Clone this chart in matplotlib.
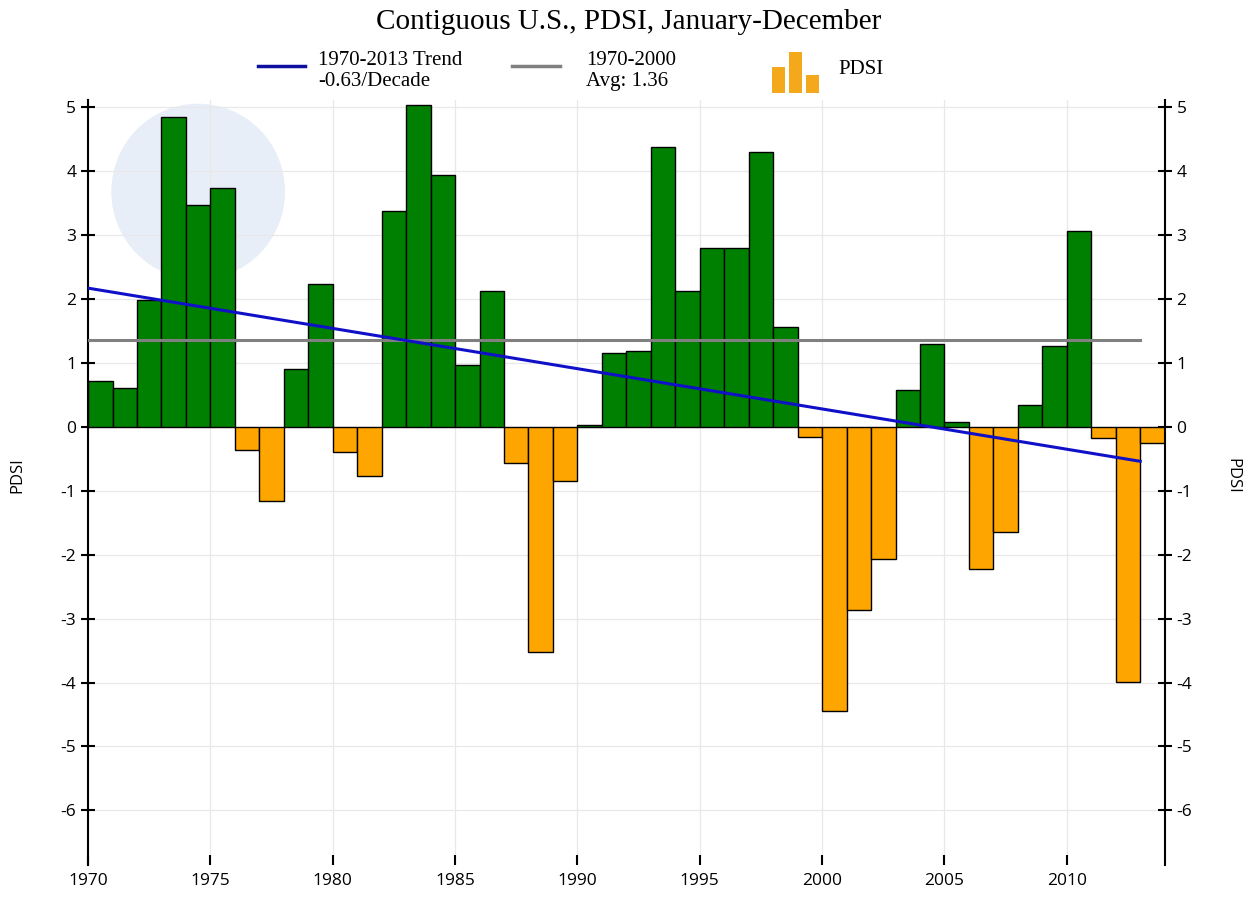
import matplotlib
matplotlib.use('Agg')
import matplotlib.pyplot as plt
import numpy as np
from matplotlib.lines import Line2D
from matplotlib.patches import Rectangle, Ellipse

plt.rcParams['axes.unicode_minus'] = False

############################################################################################################
years = np.arange(1970, 2014)
pdsi = [0.72, 0.60, 1.98, 4.84, 3.47, 3.73, -0.36, -1.16, 0.91, 2.23,
        -0.40, -0.77, 3.37, 5.03, 3.94, 0.96, 2.13, -0.56, -3.52, -0.85,
        0.03, 1.15, 1.19, 4.38, 2.13, 2.80, 2.80, 4.30, 1.56, -0.16,
        -4.44, -2.86, -2.06, 0.57, 1.30, 0.08, -2.22, -1.65, 0.34, 1.26,
        3.06, -0.18, -3.99, -0.25]
trend_start, trend_per_decade = 2.17, -0.63
avg_1970_2000 = 1.36
line_years = [1970, 2013]

title = 'Contiguous U.S., PDSI, January-December'
trend_label = '1970-2013 Trend\n-0.63/Decade'
avg_label = '1970-2000\nAvg: 1.36'
bar_label = 'PDSI'

#----------------------------------------------------------------------------------------------
fig = plt.figure(figsize=(12.49, 8.97), dpi=100)
ax = fig.add_axes([0.0705, 0.036, 0.862, 0.853])

# faint watermark disc (round on screen: ~24.5 px/year, ~64 px/unit)
ax.add_patch(Ellipse((1974.5, 3.68), 7.1, 2.75, facecolor='#e8eef7', edgecolor='none', zorder=0))

pdsi = np.array(pdsi)
colors = np.where(pdsi >= 0, '#008000', '#FFA500')
ax.bar(years, pdsi, width=1.0, align='edge', color=colors, edgecolor='black', linewidth=1.0, zorder=2)

# trend and average
tx = np.array(line_years, dtype=float)
ty = trend_start + trend_per_decade / 10. * (tx - 1970)
ax.plot(line_years, [avg_1970_2000, avg_1970_2000], color='#808080', lw=2.2, zorder=3)
ax.plot(tx, ty, color='#1010C8', lw=2.2, zorder=4)

ax.set_xlim(1970, 2014)
ax.set_ylim(-6.85, 5.12)
ax.set_xticks(np.arange(1970, 2014, 5))
ax.set_yticks(np.arange(-6, 6, 1))
ax.grid(True, color='#e8e8e8', lw=0.9, zorder=0)
ax.set_axisbelow(True)

for s in ['top', 'bottom']:
    ax.spines[s].set_visible(False)
for s in ['left', 'right']:
    ax.spines[s].set_linewidth(1.5)

ax.tick_params(axis='y', direction='inout', length=10, width=1.5, labelsize=12.5,
               left=True, right=True, labelleft=True, labelright=True)
ax.tick_params(axis='x', direction='in', length=7, width=1.5, labelsize=12.5, pad=6)
for lab in ax.get_xticklabels() + ax.get_yticklabels():
    lab.set_fontfamily('Open Sans')

fig.text(0.014, 0.47, 'PDSI', rotation=90, fontsize=12, family='Open Sans', va='center', ha='center')
fig.text(0.987, 0.47, 'PDSI', rotation=270, fontsize=12, family='Open Sans', va='center', ha='center')

#----------------------------------------------------------------------------------------------
# title and hand-made legend
fig.text(0.503, 0.976, title, fontsize=21, family='Liberation Serif', ha='center', va='center')

W, H = 1249., 897.
def fx(px): return px / W
def fy(py): return 1 - py / H

fig.add_artist(Line2D([fx(258), fx(305)], [fy(66), fy(66)], color='#1010A0', lw=2.5))
fig.text(fx(318), fy(71), trend_label, fontsize=15, family='Liberation Serif', va='center', ha='left',
         linespacing=1.15)
fig.add_artist(Line2D([fx(512), fx(560)], [fy(66), fy(66)], color='#808080', lw=2.5))
fig.text(fx(586), fy(71), avg_label, fontsize=15, family='Liberation Serif', va='center', ha='left',
         linespacing=1.15)
for x0, h in [(772, 26), (789, 41), (806, 18)]:
    fig.add_artist(Rectangle((fx(x0), fy(93)), fx(13), h / H, facecolor='#F4A81B', edgecolor='none'))
fig.text(fx(838), fy(70), bar_label, fontsize=15, family='Liberation Serif', va='center', ha='left')

fig.savefig('out.png', dpi=100)
